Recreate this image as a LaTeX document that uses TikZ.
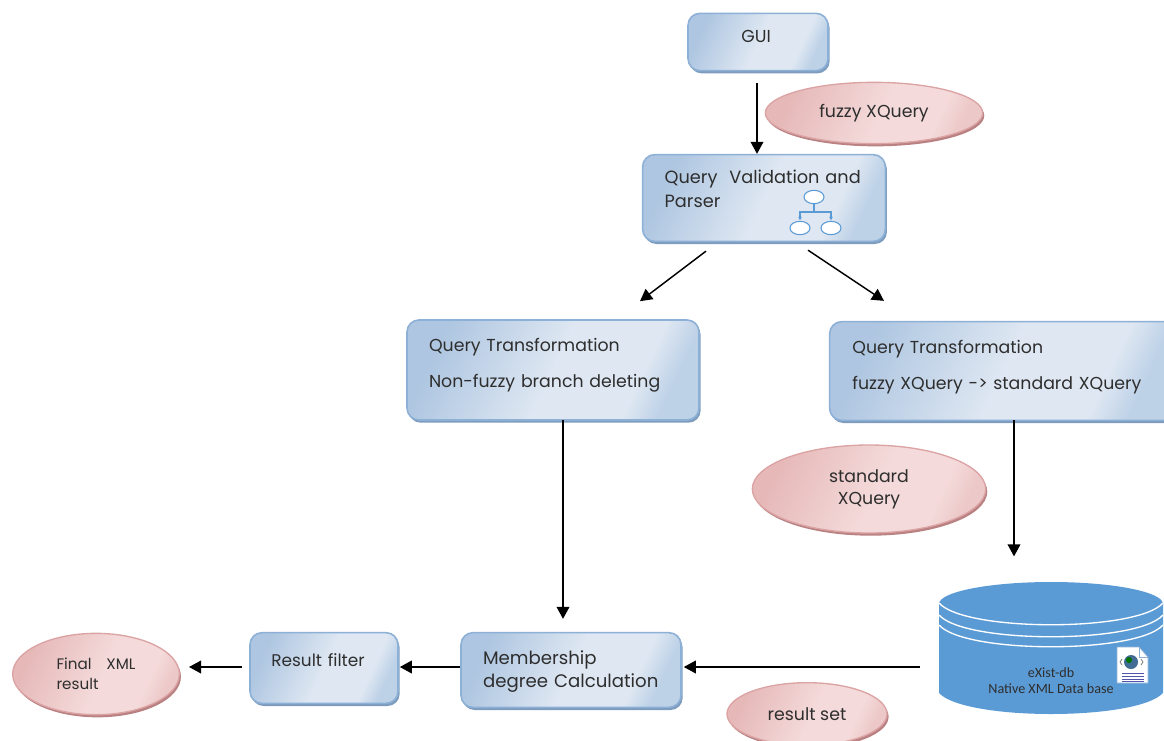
\documentclass[tikz,border=0pt]{standalone}
\usepackage{fontspec}
\setsansfont{Poppins}
\newfontfamily\dbfont{Carlito}
\usetikzlibrary{arrows.meta}
\usetikzlibrary{shapes.geometric}
\usetikzlibrary{shadows}
\definecolor{boxedge}{HTML}{8DB0D6}
\definecolor{boxshadow}{HTML}{7E9CBE}
\definecolor{boxdark}{HTML}{AEC6E1}
\definecolor{boxlight}{HTML}{DEE7F2}
\definecolor{boxright}{HTML}{BDD1E7}
\definecolor{pinkedge}{HTML}{DBA3A3}
\definecolor{pinkshadow}{HTML}{B98181}
\definecolor{pinkdark}{HTML}{E6B8B8}
\definecolor{pinklight}{HTML}{F4DADA}
\definecolor{pinkright}{HTML}{EDC8C8}
\definecolor{dbblue}{HTML}{5B9BD5}
\definecolor{labelgrey}{HTML}{2E2E2E}
\pgfdeclarehorizontalshading{boxshade}{100bp}{color(0bp)=(boxdark); color(25bp)=(boxdark); color(50bp)=(boxlight); color(68bp)=(boxlight); color(75bp)=(boxright); color(100bp)=(boxright)}
\pgfdeclarehorizontalshading{pinkshade}{100bp}{color(0bp)=(pinkdark); color(25bp)=(pinkdark); color(52bp)=(pinklight); color(68bp)=(pinklight); color(75bp)=(pinkright); color(100bp)=(pinkright)}
\tikzset{
	bluebox/.style={rectangle,rounded corners=9pt,draw=boxedge,line width=1.2pt,shading=boxshade,shading angle=-25,general shadow={fill=boxshadow,shadow xshift=1.2pt,shadow yshift=-2pt},align=left,text=labelgrey,font=\sffamily\fontsize{13}{15}\selectfont,inner ysep=0pt},
	pinkoval/.style={ellipse,draw=pinkedge,line width=1pt,shading=pinkshade,shading angle=-25,general shadow={fill=pinkshadow,shadow xshift=1.2pt,shadow yshift=-2pt},align=center,text=labelgrey,font=\sffamily\fontsize{13}{16.5}\selectfont,inner sep=0pt},
	flow/.style={line width=1.1pt,-{Triangle[length=9pt,width=9.5pt]}},
	treenode/.style={ellipse,draw=dbblue,fill=white,line width=.8pt,minimum width=15pt,minimum height=10pt,inner sep=0pt},
	treeline/.style={draw=dbblue,line width=.8pt},
	dbline/.style={draw=white,line width=1pt}
}
\begin{document}
\begin{tikzpicture}[x=.75pt,y=-.75pt]
\useasboundingbox (0,0) rectangle (1164,740);
\clip (0,0) rectangle (1164,740);

% boxes
\node[bluebox,minimum width=105pt,minimum height=43pt,inner xsep=40pt,text width=25pt,text depth=9pt] (gui) at (758,42) {GUI};
\node[bluebox,minimum width=182pt,minimum height=65pt,inner xsep=16.5pt,text width=149pt,text depth=31.5pt,font=\sffamily\fontsize{13.3}{17.5}\selectfont] (valid) at (764,198) {Query\ \ Validation and\\Parser};
\node[bluebox,minimum width=219pt,minimum height=75pt,inner xsep=16.5pt,text width=186pt,text depth=38pt,font=\sffamily\fontsize{13}{27}\selectfont] (transleft) at (553,370) {Query Transformation\\Non-fuzzy branch deleting};
\node[bluebox,minimum width=260pt,minimum height=74pt,inner xsep=17pt,text width=226pt,text depth=36pt,font=\sffamily\fontsize{13}{27}\selectfont] (transright) at (1003,371) {Query Transformation\\fuzzy XQuery -> standard XQuery};
\node[bluebox,minimum width=165pt,minimum height=56pt,inner xsep=16.5pt,text width=132pt,text depth=19pt,font=\sffamily\fontsize{13.6}{17.5}\selectfont] (member) at (571,670) {Membership\\degree Calculation};
\node[bluebox,minimum width=111pt,minimum height=53pt,inner xsep=16pt,text width=79pt,text depth=12pt,font=\sffamily\fontsize{12.7}{15}\selectfont] (filter) at (324,668) {Result filter};

% ovals
\node[pinkoval,minimum width=163pt,minimum height=46pt] (fuzzy) at (874,113) {fuzzy XQuery};
\node[pinkoval,minimum width=175pt,minimum height=66pt] (standard) at (869,489) {standard\\XQuery};
\node[pinkoval,minimum width=120pt,minimum height=47pt] (resultset) at (807,714) {result set};
\node[pinkoval,minimum width=125pt,minimum height=61pt,font=\sffamily\fontsize{11.4}{15}\selectfont,align=left] (final) at (96,674) {Final\hspace{11pt}XML\hspace{3pt}\\result};

% tree icon
\node[treenode] (treetop) at (814,197) {};
\node[treenode] (treeleft) at (800,228) {};
\node[treenode] (treeright) at (831,228) {};
\coordinate (treefork) at (814,212);
\draw[treeline] (treetop) -- (treefork);
\draw[treeline,-{Latex[length=3pt,width=3pt]}] (treefork) -| (treeleft.north);
\draw[treeline,-{Latex[length=3pt,width=3pt]}] (treefork) -| (treeright.north);

% database
\fill[dbblue] (939,603) -- (1163,603) -- (1163,693) .. controls (1137,721) and (965,721) .. (939,693) -- cycle;
\fill[dbblue] (1051,604) ellipse [x radius=112,y radius=22];
\draw[dbline] (939,603) .. controls (965,632) and (1137,632) .. (1163,603);
\draw[dbline] (939,615) .. controls (965,644) and (1137,644) .. (1163,615);
\draw[dbline] (939,625) .. controls (965,654) and (1137,654) .. (1163,625);
\node[minimum width=168pt,minimum height=98pt,inner sep=0pt] (db) at (1051,648) {};
\node[font=\dbfont\fontsize{10.6}{12}\selectfont,align=center,text=labelgrey,inner sep=0pt] (dbtext) at (1051,681) {eXist-db\\Native XML Data base};

% document icon
\filldraw[draw=boxedge,fill=white,line width=.5pt] (1117,647) -- (1139,647) -- (1148,657) -- (1148,683) -- (1117,683) -- cycle;
\draw[boxedge,line width=.5pt] (1139,647) -- (1139,657) -- (1148,657);
\fill[dbblue!70!black] (1131,662) circle [radius=7];
\fill[green!45!black] (1129,660) circle [radius=3];
\draw[gray,line width=.6pt] (1122,659) -- (1120,662) -- (1122,665);
\draw[gray,line width=.6pt] (1141,659) -- (1143,662) -- (1141,665);
\foreach \liney in {673,676,679,681}
	\draw[blue!35!gray,line width=.7pt] (1122,\liney) -- (1144,\liney);

% arrows
\draw[flow] ([shift={(-1,12)}]gui.south) -- ([shift={(-7,0)}]valid.north);
\draw[flow] ([shift={(-58,9)}]valid.south) -- ([shift={(87,-18)}]transleft.north);
\draw[flow] ([shift={(44,8)}]valid.south) -- ([shift={(-119,-20)}]transright.north);
\draw[flow] ([shift={(10,-1)}]transleft.south) -- ([shift={(-8,-13)}]member.north);
\draw[flow] ([shift={(11,-1)}]transright.south) -- ([shift={(-37,-26)}]db.north);
\draw[flow] ([shift={(-19,19)}]db.west) -- ([shift={(2,-3)}]member.east);
\draw[flow] ([shift={(0,-3)}]member.west) -- ([shift={(1,-1)}]filter.east);
\draw[flow] ([shift={(-7,-1)}]filter.west) -- ([shift={(9,-7)}]final.east);
\end{tikzpicture}
\end{document}
